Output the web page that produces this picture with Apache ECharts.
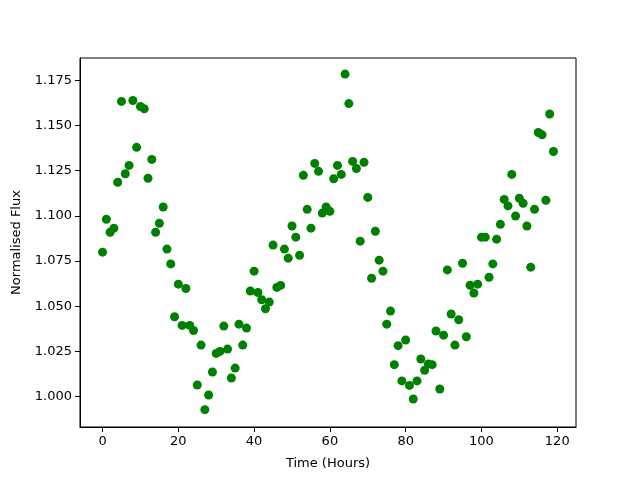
<!DOCTYPE html>
<html>
<head>
<meta charset="utf-8">
<script src="https://cdn.jsdelivr.net/npm/echarts@6/dist/echarts.min.js"></script>
<style>
  html, body { margin: 0; padding: 0; background: #fff; }
  #chart { width: 640px; height: 480px; }
</style>
</head>
<body>
<div id="chart"></div>
<script>
// hourly samples, 0..119
var hours = []
for (var h = 0; h < 120; h++) hours.push(h)

// normalised flux, one per hour
var flux = [
  1.0799, 1.0981, 1.0909, 1.0932, 1.1186, 1.1633, 1.1233, 1.1279, 1.1638, 1.1379,
  1.1605, 1.1592, 1.1208, 1.1312, 1.0909, 1.0959, 1.1049, 1.0816, 1.0734, 1.0442,
  1.0622, 1.0394, 1.0598, 1.0394, 1.0366, 1.0064, 1.0285, 0.9928, 1.0009, 1.0136,
  1.0239, 1.0250, 1.0390, 1.0263, 1.0103, 1.0158, 1.0401, 1.0285, 1.0379, 1.0584,
  1.0694, 1.0576, 1.0536, 1.0486, 1.0523, 1.0838, 1.0604, 1.0615, 1.0816, 1.0766,
  1.0944, 1.0882, 1.0782, 1.1224, 1.1036, 1.0932, 1.1290, 1.1246, 1.1015, 1.1049,
  1.1025, 1.1205, 1.1279, 1.1229, 1.1784, 1.1621, 1.1301, 1.1262, 1.0860, 1.1296,
  1.1102, 1.0655, 1.0915, 1.0755, 1.0694, 1.0401, 1.0473, 1.0177, 1.0282, 1.0087,
  1.0313, 1.0062, 0.9987, 1.0087, 1.0208, 1.0146, 1.0181, 1.0177, 1.0363, 1.0042,
  1.0340, 1.0701, 1.0457, 1.0285, 1.0425, 1.0738, 1.0331, 1.0616, 1.0573, 1.0622,
  1.0882, 1.0882, 1.0660, 1.0734, 1.0871, 1.0953, 1.1091, 1.1055, 1.1229, 1.0999,
  1.1097, 1.1069, 1.0944, 1.0716, 1.1036, 1.1461, 1.1448, 1.1086, 1.1563, 1.1356
]

var xTicks = [0, 20, 40, 60, 80, 100, 120]
var yTicks = [1.000, 1.025, 1.050, 1.075, 1.100, 1.125, 1.150, 1.175]

var points = []
for (var i = 0; i < hours.length; i++) {
  points.push([hours[i], flux[i]])
}

var font = 'DejaVu Sans'
var chart = echarts.init(document.getElementById('chart'), null, { renderer: 'canvas' })

chart.setOption({
  animation: false,
  backgroundColor: '#fff',
  grid: {
    left: 80, right: 64, top: 58, bottom: 53,
    show: true,
    borderColor: '#000',
    borderWidth: 1
  },
  xAxis: {
    type: 'value',
    min: -5.95,
    max: 124.95,
    name: 'Time (Hours)',
    nameLocation: 'middle',
    nameGap: 30,
    nameTextStyle: { color: '#000', fontFamily: font, fontSize: 13 },
    axisLine: { show: true, onZero: false, lineStyle: { color: '#000', width: 1 } },
    axisTick: { show: true, length: 5, lineStyle: { color: '#000' }, customValues: xTicks },
    axisLabel: {
      color: '#000', fontFamily: font, fontSize: 13, margin: 8,
      customValues: xTicks,
      formatter: function (v) { return String(v) }
    },
    splitLine: { show: false }
  },
  yAxis: {
    type: 'value',
    min: 0.9832,
    max: 1.1873,
    name: 'Normalised Flux',
    nameLocation: 'middle',
    nameGap: 57,
    nameTextStyle: { color: '#000', fontFamily: font, fontSize: 13 },
    axisLine: { show: true, onZero: false, lineStyle: { color: '#000', width: 1 } },
    axisTick: { show: true, length: 5, lineStyle: { color: '#000' }, customValues: yTicks },
    axisLabel: {
      color: '#000', fontFamily: font, fontSize: 13, margin: 8,
      customValues: yTicks,
      formatter: function (v) { return v.toFixed(3) }
    },
    splitLine: { show: false }
  },
  series: [
    {
      type: 'scatter',
      data: points,
      symbol: 'circle',
      symbolSize: 9,
      itemStyle: { color: '#008000', opacity: 1 }
    }
  ]
})
</script>
</body>
</html>
